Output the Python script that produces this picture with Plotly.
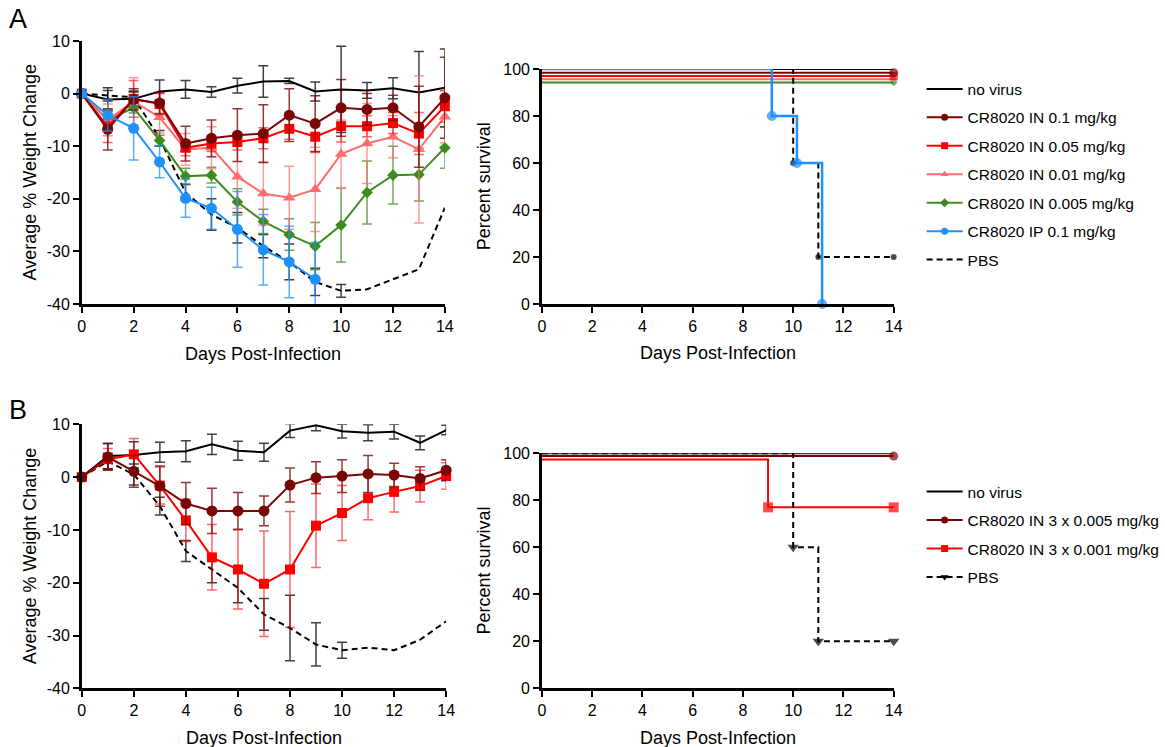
import numpy as np
import plotly.graph_objects as go

FONT = "Arial, 'Liberation Sans', Helvetica, sans-serif"
W, H = 1165, 747

# ---------------- data ----------------
days = list(range(15))

# Panel A - weight change (mean, error)
wA_novirus = [0, -1.1, -1.0, 0.4, 0.8, 0.3, 1.5, 2.3, 2.4, 0.4, 0.8, 0.6, 1.0, 0.2, 1.1]
eA_novirus = [np.nan, 2.2, 1.5, 2.2, 1.7, 1.0, 1.4, 3.0, 0.5, 1.8, 8.2, 1.5, 2.0, 7.8, 7.4]
wA_in01 = [0, -6.8, -1.1, -1.8, -9.5, -8.5, -7.9, -7.6, -4.1, -5.7, -2.7, -3.0, -2.7, -6.3, -0.8]
eA_in01 = [np.nan, 3.9, 2.0, 2.0, 3.3, 3.5, 5.0, 5.5, 5.0, 5.3, 5.4, 3.0, 2.4, 7.7, 7.7]
wA_in005 = [0, -6.3, -1.0, -2.0, -10.3, -9.5, -9.2, -8.5, -6.7, -8.2, -6.2, -6.2, -5.6, -7.6, -2.4]
eA_in005 = [np.nan, 3.0, 3.5, 2.0, 1.5, 1.5, 1.5, 2.0, 2.0, 3.0, 3.0, 2.0, 2.0, 4.0, 3.0]
wA_in001 = [0, -5.0, -1.5, -4.5, -10.6, -10.3, -15.8, -19.0, -19.8, -18.2, -11.5, -9.5, -8.2, -10.6, -4.4]
eA_in001 = [np.nan, 3.0, 4.5, 3.0, 3.0, 4.0, 6.0, 6.0, 6.0, 8.0, 6.5, 7.6, 4.0, 14.0, 5.0]
wA_in0005 = [0, -5.0, -2.7, -8.9, -15.7, -15.5, -20.6, -24.3, -26.8, -29.0, -25.0, -18.8, -15.5, -15.4, -10.3]
eA_in0005 = [np.nan, 2.0, 1.0, 1.0, 1.5, 1.5, 2.5, 2.3, 3.0, 4.5, 7.0, 6.0, 5.5, 5.0, 3.9]
wA_ip01 = [0, -4.1, -6.6, -13.0, -19.9, -21.8, -25.8, -29.7, -32.0, -35.3]
eA_ip01 = [np.nan, 3.0, 6.0, 3.0, 3.6, 4.0, 7.2, 6.7, 6.8, 7.0]
wA_pbs = [0, -0.4, -0.7, -8.5, -18.8, -23.0, -25.5, -29.0, -32.0, -35.8, -37.5, -37.2, -35.3, -33.4, -21.7]
eA_pbs = [np.nan, 1.0, 1.0, 1.5, 1.5, 3.0, 2.9, 2.2, 3.4, 2.6, 1.2, np.nan, np.nan, np.nan, np.nan]

# Panel A - survival
sA_novirus_x, sA_novirus_y = [0, 14], [100, 100]
sA_in01_x, sA_in01_y = [0, 14], [98.4, 98.4]
sA_in005_x, sA_in005_y = [0, 14], [97.0, 97.0]
sA_in001_x, sA_in001_y = [0, 14], [95.6, 95.6]
sA_in0005_x, sA_in0005_y = [0, 14], [94.3, 94.3]
sA_ip01_x, sA_ip01_y = [0, 9.15, 10.15, 11.15], [100, 80, 60, 0]
sA_pbs_x, sA_pbs_y = [0, 10, 11, 14], [100, 60, 20, 20]

# Panel B - weight change
wB_novirus = [0, 4.0, 4.2, 4.7, 4.9, 6.2, 5.0, 4.7, 8.8, 9.8, 8.7, 8.4, 8.6, 6.5, 8.9]
eB_novirus = [np.nan, 2.4, 2.5, 1.9, 2.0, 1.9, 1.8, 1.7, 1.3, 1.0, 1.3, 1.5, 1.4, 1.3, 0.9]
wB_005 = [0, 3.8, 1.1, -1.7, -5.0, -6.4, -6.4, -6.4, -1.5, -0.1, 0.2, 0.6, 0.4, -0.25, 1.3]
eB_005 = [np.nan, 2.5, 3.0, 3.8, 4.0, 4.3, 3.5, 2.8, 3.2, 3.0, 3.1, 3.5, 2.2, 2.2, 2.0]
wB_001 = [0, 3.4, 4.3, -1.6, -8.2, -15.2, -17.5, -20.2, -17.5, -9.2, -6.8, -4.0, -2.8, -1.7, 0.2]
eB_001 = [np.nan, 2.0, 3.0, 3.5, 4.0, 6.2, 7.5, 10.0, 11.0, 7.9, 5.2, 4.1, 3.8, 3.0, 2.5]
wB_pbs = [0, 3.0, 0.5, -5.5, -14.0, -17.5, -21.0, -26.0, -28.6, -31.7, -32.8, -32.3, -32.8, -30.8, -27.3]
eB_pbs = [np.nan, 1.5, 2.0, 1.7, 2.0, 2.5, 2.8, 3.0, 6.2, 4.1, 1.5, np.nan, np.nan, np.nan, np.nan]

# Panel B - survival
sB_novirus_x, sB_novirus_y = [0, 14], [100, 100]
sB_005_x, sB_005_y = [0, 14], [98.8, 98.8]
sB_001_x, sB_001_y = [0, 9, 14], [97.4, 77, 77]
sB_pbs_x, sB_pbs_y = [0, 10, 11, 14], [100, 60, 20, 20]

legend_A = ["no virus", "CR8020 IN 0.1 mg/kg", "CR8020 IN 0.05 mg/kg", "CR8020 IN 0.01 mg/kg",
            "CR8020 IN 0.005 mg/kg", "CR8020 IP 0.1 mg/kg", "PBS"]
legend_B = ["no virus", "CR8020 IN 3 x 0.005 mg/kg", "CR8020 IN 3 x 0.001 mg/kg", "PBS"]

x_ticks = [0, 2, 4, 6, 8, 10, 12, 14]
w_ticks = [-40, -30, -20, -10, 0, 10]
s_ticks = [0, 20, 40, 60, 80, 100]

# ---------------- styles ----------------
BLACK = "#000000"
DRED = "#7A0505"
RED = "#FF0000"
SALMON = "#FF6E6E"
GREEN = "#3C8C1C"
BLUE = "#1E90FF"

ECOL = {
    BLACK: "rgba(0,0,0,0.75)",
    DRED: "rgba(122,5,5,0.8)",
    RED: "rgba(255,0,0,0.6)",
    SALMON: "rgba(255,110,110,0.7)",
    GREEN: "rgba(60,140,28,0.75)",
    BLUE: "rgba(30,144,255,0.75)",
}

fig = go.Figure()


def weight(xa, ya, y, err, color, symbol=None, size=10, dash="solid"):
    fig.add_trace(go.Scatter(
        x=days[:len(y)], y=y,
        mode="lines+markers" if symbol else "lines",
        line=dict(color=color, width=2, dash=dash),
        marker=dict(symbol=symbol or "circle", size=size, color=color, line=dict(width=0)),
        error_y=dict(type="data", array=np.array(err, dtype=float), color=ECOL[color],
                     thickness=1.5, width=5),
        xaxis=xa, yaxis=ya, showlegend=False, cliponaxis=False, hoverinfo="skip"))


def surv(xa, ya, x, y, color, symbol, sizes, dash="solid", width=2):
    fig.add_trace(go.Scatter(
        x=x, y=y, mode="lines+markers", line=dict(color=color, width=width, dash=dash, shape="hv"),
        marker=dict(symbol=symbol, size=sizes, color=color, line=dict(width=0)),
        xaxis=xa, yaxis=ya, showlegend=False, cliponaxis=False, hoverinfo="skip"))


def leg(name, color, symbol, size, legend, dash="solid"):
    fig.add_trace(go.Scatter(
        x=[None], y=[None], name=name,
        mode="lines+markers" if symbol else "lines",
        line=dict(color=color, width=2, dash=dash),
        marker=dict(symbol=symbol or "circle", size=size, color=color, line=dict(width=0)),
        legend=legend, legendgroup=name + legend, showlegend=True, hoverinfo="skip"))


PBS_DASH = "6px,4px"

# Panel A weight
weight("x", "y", wA_novirus, eA_novirus, BLACK)
weight("x", "y", wA_pbs, eA_pbs, BLACK, dash=PBS_DASH)
weight("x", "y", wA_in0005, eA_in0005, GREEN, "diamond", 9)
weight("x", "y", wA_in001, eA_in001, SALMON, "triangle-up", 11)
weight("x", "y", wA_in005, eA_in005, RED, "square", 10)
weight("x", "y", wA_in01, eA_in01, DRED, "circle", 11)
weight("x", "y", wA_ip01, eA_ip01, BLUE, "circle", 11)

# Panel A survival
surv("x2", "y2", sA_novirus_x, sA_novirus_y, BLACK, "circle", [0, 0])
surv("x2", "y2", sA_in0005_x, sA_in0005_y, GREEN, "diamond", [0, 6])
surv("x2", "y2", sA_in001_x, sA_in001_y, SALMON, "triangle-up", [0, 8])
surv("x2", "y2", sA_in005_x, sA_in005_y, RED, "square", [0, 8])
surv("x2", "y2", sA_in01_x, sA_in01_y, DRED, "circle", [0, 9])
surv("x2", "y2", sA_pbs_x, sA_pbs_y, BLACK, "circle", [0, 6, 6, 6], dash=PBS_DASH)
surv("x2", "y2", sA_ip01_x, sA_ip01_y, BLUE, "circle", [0, 10, 10, 10], width=2.5)

# Panel B weight
weight("x3", "y3", wB_novirus, eB_novirus, BLACK)
weight("x3", "y3", wB_pbs, eB_pbs, BLACK, dash=PBS_DASH)
weight("x3", "y3", wB_001, eB_001, RED, "square", 10)
weight("x3", "y3", wB_005, eB_005, DRED, "circle", 11)

# Panel B survival
surv("x4", "y4", sB_novirus_x, sB_novirus_y, BLACK, "circle", [0, 0])
surv("x4", "y4", sB_001_x, sB_001_y, RED, "square", [0, 10, 10])
surv("x4", "y4", sB_005_x, sB_005_y, DRED, "circle", [0, 9])
surv("x4", "y4", sB_pbs_x, sB_pbs_y, BLACK, "triangle-down", [0, 10, 10, 10], dash=PBS_DASH)

# Legend entries
colsA = [BLACK, DRED, RED, SALMON, GREEN, BLUE, BLACK]
symsA = [None, "circle", "square", "triangle-up", "diamond", "circle", None]
for n, c, s in zip(legend_A, colsA, symsA):
    leg(n, c, s, 7, "legend", dash=PBS_DASH if n == "PBS" else "solid")
colsB = [BLACK, DRED, RED, BLACK]
symsB = [None, "circle", "square", "triangle-down"]
for n, c, s in zip(legend_B, colsB, symsB):
    leg(n, c, s, 7, "legend2", dash=PBS_DASH if n == "PBS" else "solid")

# ---------------- layout ----------------
def dx(a, b):
    return [a / W, b / W]


def dy(top, bottom):
    return [1 - bottom / H, 1 - top / H]


axis_common = dict(showline=True, linecolor="black", linewidth=2.5, ticks="outside", ticklen=6,
                   tickwidth=2, tickcolor="black", showgrid=False, zeroline=False,
                   tickfont=dict(size=16, color="black", family=FONT), automargin=False,
                   fixedrange=True, mirror=False)


def xax(domain, anchor):
    return dict(axis_common, domain=domain, anchor=anchor, range=[0, 14],
                tickvals=x_ticks, ticktext=[str(t) for t in x_ticks])


def yax(domain, anchor, rng, ticks):
    return dict(axis_common, domain=domain, anchor=anchor, range=rng,
                tickvals=ticks, ticktext=[str(t) for t in ticks])


legend_style = dict(xanchor="left", yanchor="top", font=dict(size=15.5, color="black", family=FONT),
                    bgcolor="rgba(0,0,0,0)", borderwidth=0, tracegroupgap=5.3, traceorder="grouped",
                    itemwidth=36)

annotations = []


def text(s, x, y, size=18, angle=0):
    annotations.append(dict(text=s, x=x / W, y=1 - y / H, xref="paper", yref="paper",
                            showarrow=False, textangle=angle, xanchor="center", yanchor="middle",
                            font=dict(size=size, color="black", family=FONT)))


text("A", 18, 19, 27)
text("B", 18, 410, 27)
text("Average % Weight Change", 30, 172.5, angle=-90)
text("Average % Weight Change", 30, 556.3, angle=-90)
text("Percent survival", 485, 186.5, angle=-90)
text("Percent survival", 485, 570.8, angle=-90)
text("Days Post-Infection", 264, 354)
text("Days Post-Infection", 720, 353)
text("Days Post-Infection", 264.6, 738)
text("Days Post-Infection", 720, 738)

fig.update_layout(
    width=W, height=H,
    margin=dict(l=0, r=0, t=0, b=0),
    paper_bgcolor="white", plot_bgcolor="white",
    font=dict(family=FONT, color="black"),
    xaxis=xax(dx(82, 446), "y"),
    yaxis=yax(dy(41, 304), "x", [-40, 10], w_ticks),
    xaxis2=xax(dx(543.3, 896), "y2"),
    yaxis2=yax(dy(69, 304), "x2", [0, 100], s_ticks),
    xaxis3=xax(dx(82, 447.3), "y3"),
    yaxis3=yax(dy(424.3, 688.3), "x3", [-40, 10], w_ticks),
    xaxis4=xax(dx(543.3, 896), "y4"),
    yaxis4=yax(dy(453.3, 688.3), "x4", [0, 100], s_ticks),
    legend=dict(legend_style, x=924 / W, y=1 - 72.3 / H),
    legend2=dict(legend_style, x=924 / W, y=1 - 475 / H),
    annotations=annotations,
    showlegend=True,
)

fig.write_html("out.html", config={"displayModeBar": False},
               post_script="document.body.style.margin='0px';document.body.style.overflow='hidden';")
